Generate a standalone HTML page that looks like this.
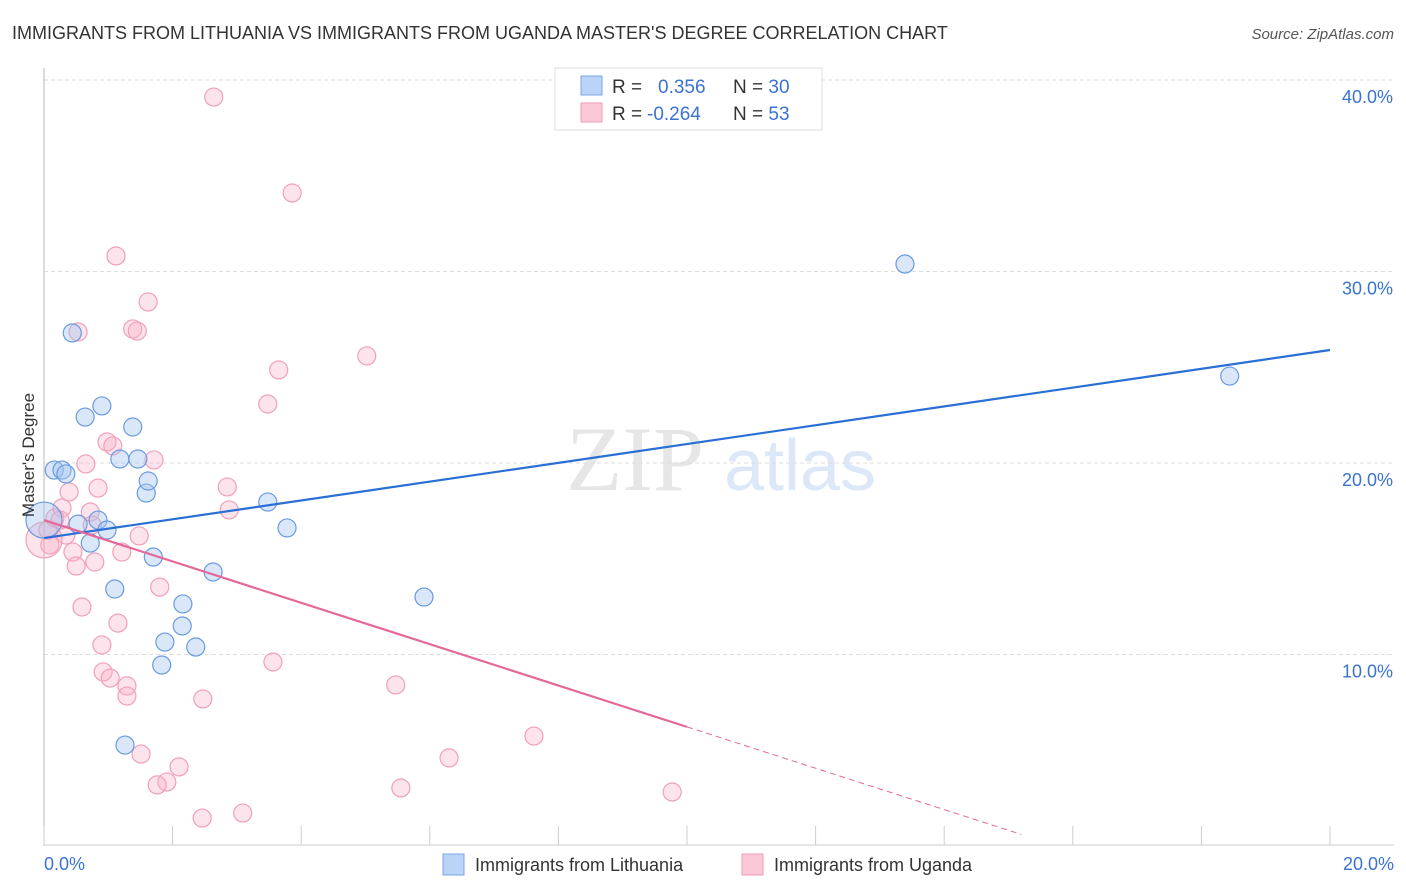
<!DOCTYPE html>
<html><head><meta charset="utf-8"><style>
body{margin:0;background:#fff;font-family:"Liberation Sans",sans-serif}
svg{display:block}
</style></head><body>
<svg id="chart" width="1406" height="892">
<text x="12" y="39" font-size="18" fill="#333">IMMIGRANTS FROM LITHUANIA VS IMMIGRANTS FROM UGANDA MASTER'S DEGREE CORRELATION CHART</text>
<text x="1394" y="39" font-size="15" fill="#555" font-style="italic" text-anchor="end">Source: ZipAtlas.com</text>
<g>
<text x="635" y="490" font-size="92" fill="#e6e6e6" font-family="Liberation Serif" text-anchor="middle">ZIP</text>
<text x="800" y="490" font-size="72" fill="#dce8f7" text-anchor="middle">atlas</text>
</g>
<g id="grid"></g>
<g id="marks"></g>
<text transform="translate(34,455) rotate(-90)" font-size="17" fill="#333" text-anchor="middle">Master's Degree</text>
<g>
<rect x="555" y="68" width="267" height="62" fill="#fff" stroke="#ddd"/>
<rect x="581" y="76" width="21" height="19" fill="#b9d4f6" stroke="#7aa6e6"/>
<rect x="581" y="103" width="21" height="19" fill="#fac8d6" stroke="#f09ab5"/>
<text x="612" y="93" font-size="19" fill="#333">R = <tspan x="658" fill="#3b73d0">0.356</tspan><tspan x="733" fill="#333">N = </tspan><tspan fill="#3b73d0">30</tspan></text>
<text x="612" y="120" font-size="19" fill="#333">R = <tspan x="647" fill="#3b73d0">-0.264</tspan><tspan x="733" fill="#333">N = </tspan><tspan fill="#3b73d0">53</tspan></text>
</g>
<g>
<rect x="443" y="854" width="21" height="21" fill="#b9d4f6" stroke="#7aa6e6"/>
<text x="475" y="871" font-size="18" fill="#333">Immigrants from Lithuania</text>
<rect x="742" y="854" width="21" height="21" fill="#fac8d6" stroke="#f09ab5"/>
<text x="774" y="871" font-size="18" fill="#333">Immigrants from Uganda</text>
</g>
</svg>
<script>
const blueX=[0.16,0.28,0.34,0.44,0.64,0.90,0.53,0.72,0.84,0.98,1.10,1.18,1.38,1.46,1.59,1.62,1.70,1.26,1.88,1.83,2.16,2.15,2.36,2.63,3.48,3.78,5.91,13.39,18.44,0.0];
const blueY=[19.63,19.63,19.43,26.79,22.40,22.98,16.81,15.82,17.02,16.50,13.42,20.21,21.88,20.21,18.43,19.06,15.09,5.27,10.65,9.45,12.64,11.49,10.39,14.31,17.96,16.61,13.00,30.39,24.54,17.02];
const pinkX=[2.64,3.86,1.12,1.62,0.53,1.38,1.45,5.02,3.65,3.48,0.98,1.07,1.71,0.65,0.39,0.84,2.85,2.88,0.72,0.28,0.17,0.34,0.09,1.48,0.45,1.21,0.50,0.79,1.80,0.59,1.15,0.90,3.56,0.92,1.03,1.29,1.29,5.47,2.47,1.51,6.30,7.62,2.10,1.91,1.76,5.55,9.77,3.09,2.46,0.0,0.25,0.06,0.75];
const pinkY=[39.11,34.10,30.81,28.41,26.84,27.00,26.89,25.59,24.86,23.08,21.10,20.89,20.16,19.95,18.49,18.69,18.75,17.55,17.44,17.65,17.13,16.24,15.72,16.19,15.35,15.35,14.62,14.83,13.52,12.48,11.64,10.50,9.61,9.09,8.77,8.36,7.83,8.41,7.68,4.80,4.60,5.74,4.13,3.34,3.19,3.03,2.82,1.72,1.46,15.98,17.02,16.50,16.76];
const blueTrend=[16.08,25.9];   // y at x=0, x=20
const pinkTrend=[17.02,-1.08];  // intercept, slope
const pinkSolidEnd=10.0, pinkDashEnd=15.2;
const yTicks=[10,20,30,40];
const yTickLabels=["10.0%","20.0%","30.0%","40.0%"];
const xTicks=[0,2,4,6,8,10,12,14,16,18,20];

const NS="http://www.w3.org/2000/svg";
const X=v=>44+v/20*1286, Y=v=>846-v*19.15;
function mk(tag,attrs,parent){const e=document.createElementNS(NS,tag);for(const k in attrs)e.setAttribute(k,attrs[k]);parent.appendChild(e);return e;}
const grid=document.getElementById('grid'), marks=document.getElementById('marks');
yTicks.forEach((t,i)=>{
  const l=mk('line',{x1:44,x2:1394,y1:Y(t),y2:Y(t),stroke:'#ddd','stroke-dasharray':'4,3'},grid);
  
  
  const tx=mk('text',{x:1393,y:Y(t)+23,'font-size':18,fill:'#3b73d0','text-anchor':'end'},grid);
  tx.textContent=yTickLabels[i];
  
  
});
const ax=mk('line',{x1:44,x2:44,y1:68,y2:846,stroke:'#bbb'},grid);


const bx=mk('line',{x1:44,x2:1394,y1:845,y2:845,stroke:'#ccc'},grid);


xTicks.forEach(t=>{
  const l=mk('line',{x1:X(t),x2:X(t),y1:826,y2:845,stroke:'#ccc'},grid);
  
  
});
[[0,'0.0%','start',44],[20,'20.0%','end',1394]].forEach(a=>{
  const tx=mk('text',{x:a[3],y:870,'font-size':18,fill:'#3b73d0','text-anchor':a[2]},grid);
  tx.textContent=a[1];
  
  
});
pinkX.forEach((v,i)=>{
  const c=mk('circle',{cx:X(v),cy:Y(pinkY[i]),r:(v===0?18:9),fill:'rgba(248,175,198,0.35)',stroke:'#f0a0b8','stroke-width':1.2},marks);
  
  
});
blueX.forEach((v,i)=>{
  const c=mk('circle',{cx:X(v),cy:Y(blueY[i]),r:(v===0?18:9),fill:'rgba(160,196,240,0.4)',stroke:'#6a9be0','stroke-width':1.2},marks);
  
  
});
const bl=mk('line',{x1:X(0),y1:Y(blueTrend[0]),x2:X(20),y2:Y(blueTrend[1]),stroke:'#2a6fd6','stroke-width':2.2},marks);


const pf=x=>pinkTrend[0]+pinkTrend[1]*x;
const pl=mk('line',{x1:X(0),y1:Y(pf(0)),x2:X(pinkSolidEnd),y2:Y(pf(pinkSolidEnd)),stroke:'#e4699a','stroke-width':2.2},marks);


const pd=mk('line',{x1:X(pinkSolidEnd),y1:Y(pf(pinkSolidEnd)),x2:X(pinkDashEnd),y2:Y(pf(pinkDashEnd)),stroke:'#e4699a','stroke-width':1,'stroke-dasharray':'6,4'},marks);


</script>
</body></html>
